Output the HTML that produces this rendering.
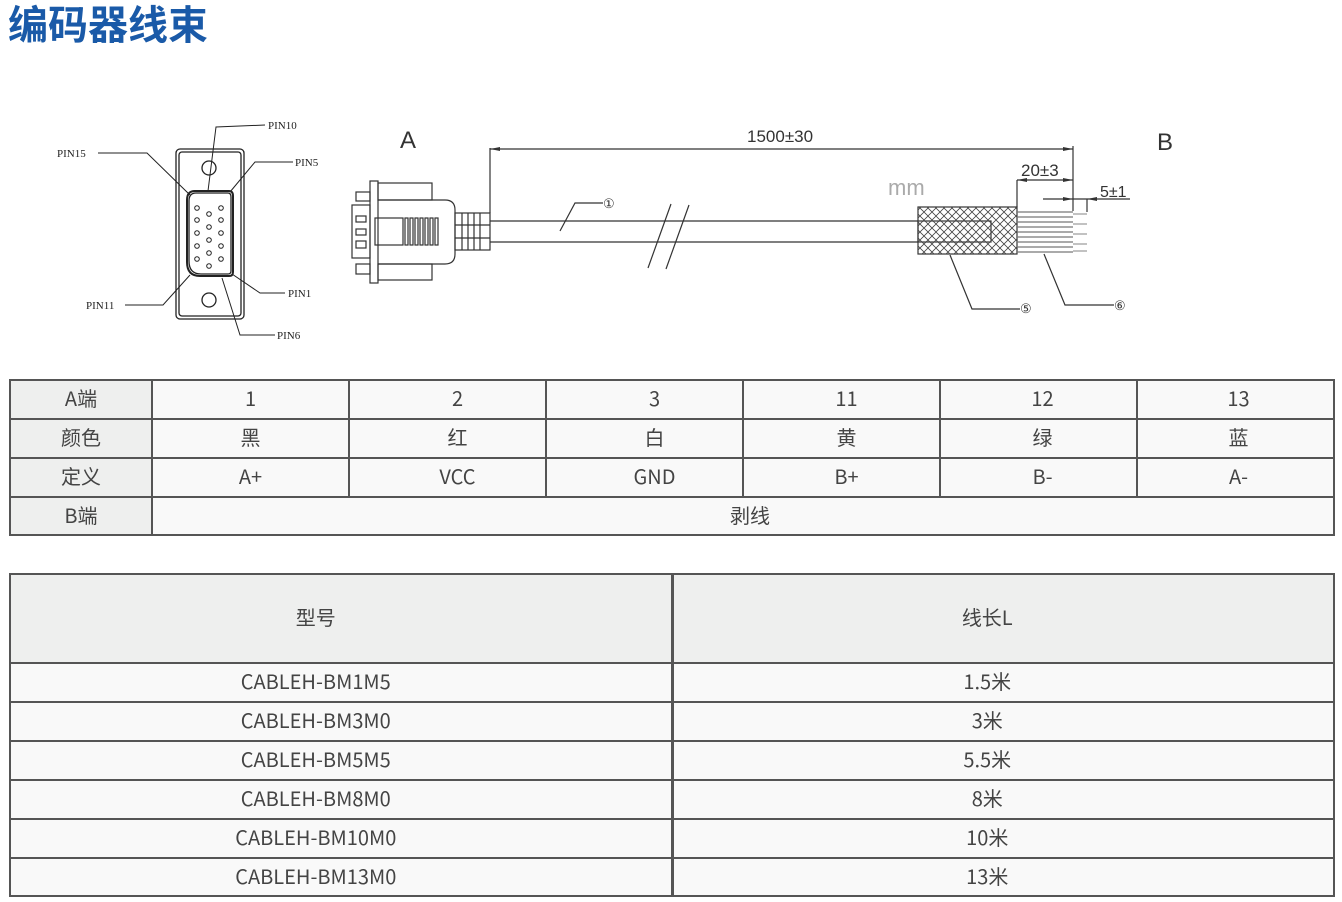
<!DOCTYPE html>
<html><head><meta charset="utf-8">
<style>
html,body{margin:0;padding:0;background:#fff;}
body{width:1342px;height:902px;position:relative;overflow:hidden;font-family:"Liberation Sans","Noto Sans CJK SC",sans-serif;}
.title{position:absolute;left:8px;top:-7px;font-size:40px;font-weight:bold;color:#1a5aa8;font-family:"Noto Sans CJK SC",sans-serif;letter-spacing:0px;}
table{position:absolute;border-collapse:collapse;font-family:"Noto Sans CJK SC","Liberation Sans",sans-serif;color:#444;font-size:20px;}
td{border:2px solid #555;text-align:center;padding:0;background:#f9f9f9;line-height:1;}
td.h{background:#eeefee;}
.t2 td.a{padding-right:50px;padding-bottom:3px;}
.t2 td.b{padding-right:32px;padding-bottom:3px;}
.t1 td{padding-bottom:3px;}
</style></head><body>
<div class="title">编码器线束</div>

<svg width="1342" height="370" style="position:absolute;left:0;top:0" xmlns="http://www.w3.org/2000/svg">
<g fill="none" stroke="#222" stroke-width="1.3">
 <rect x="176" y="149" width="68" height="170" rx="4"/>
 <rect x="179" y="152" width="62" height="164" rx="3"/>
 <circle cx="209" cy="168" r="7"/>
 <circle cx="209" cy="300" r="7"/>
 <path d="M195 191 L229 191 Q233 191 233 196 L233 272 Q233 276 229 276 L200 276 Q187 276 187 262 L187 200 Q187 191 195 191 Z" stroke-width="2"/>
 <path d="M196 193 L228 193 Q231 193 231 197 L231 271 Q231 274 228 274 L201 274 Q189 274 189 261 L189 201 Q189 193 196 193 Z"/>
</g>
<g fill="none" stroke="#222" stroke-width="1">
 <circle cx="197" cy="208" r="2.3"/><circle cx="221" cy="208" r="2.3"/><circle cx="209" cy="214" r="2.3"/>
 <circle cx="197" cy="220" r="2.3"/><circle cx="221" cy="220" r="2.3"/><circle cx="209" cy="227" r="2.3"/>
 <circle cx="197" cy="233" r="2.3"/><circle cx="221" cy="233" r="2.3"/><circle cx="209" cy="240" r="2.3"/>
 <circle cx="197" cy="246" r="2.3"/><circle cx="221" cy="246" r="2.3"/><circle cx="209" cy="253" r="2.3"/>
 <circle cx="197" cy="259" r="2.3"/><circle cx="221" cy="259" r="2.3"/><circle cx="209" cy="266" r="2.3"/>
 <polyline points="98,153 147,153 190,195"/>
 <polyline points="265,125 216,127 208,191"/>
 <polyline points="293,162 255,162 230,192"/>
 <polyline points="285,293 260,293 232,274"/>
 <polyline points="275,335 240,335 222,278"/>
 <polyline points="125,305 163,305 190,275"/>
</g>
<g font-family="Liberation Serif,serif" font-size="11" fill="#222">
 <text x="57" y="157">PIN15</text>
 <text x="268" y="129">PIN10</text>
 <text x="295" y="166">PIN5</text>
 <text x="288" y="297">PIN1</text>
 <text x="277" y="339">PIN6</text>
 <text x="86" y="309">PIN11</text>
</g>

<g fill="none" stroke="#333" stroke-width="1.2">
 <rect x="370" y="181" width="8" height="102"/>
 <rect x="378" y="183" width="54" height="17"/>
 <rect x="378" y="264" width="54" height="16"/>
 <path d="M378 200 L445 200 Q455 200 455 210 L455 254 Q455 264 445 264 L378 264"/>
 <rect x="352" y="205" width="18" height="53"/>
 <rect x="356" y="192" width="14" height="9"/>
 <rect x="356" y="264" width="14" height="10"/>
 <rect x="356" y="216" width="10" height="6"/>
 <rect x="356" y="229" width="10" height="6"/>
 <rect x="356" y="241" width="10" height="7"/>
 <rect x="375" y="218" width="28" height="27"/>
 <rect x="405" y="218" width="3" height="27"/><rect x="410" y="218" width="3" height="27"/>
 <rect x="415" y="218" width="3" height="27"/><rect x="420" y="218" width="3" height="27"/>
 <rect x="425" y="218" width="3" height="27"/><rect x="430" y="218" width="3" height="27"/>
 <rect x="435" y="218" width="3" height="27"/>
 <rect x="455" y="213" width="35" height="37"/>
 <line x1="462" y1="213" x2="462" y2="250"/><line x1="468" y1="213" x2="468" y2="250"/>
 <line x1="474" y1="213" x2="474" y2="250"/><line x1="480" y1="213" x2="480" y2="250"/>
 <line x1="455" y1="225" x2="490" y2="225"/><line x1="455" y1="238" x2="490" y2="238"/>
 <line x1="490" y1="221" x2="918" y2="221"/>
 <line x1="490" y1="242" x2="918" y2="242"/>
 <line x1="671" y1="204" x2="648" y2="268"/>
 <line x1="689" y1="205" x2="666" y2="269"/>
 <polyline points="560,231 575,203 603,203"/>
 <line x1="490" y1="148" x2="490" y2="213"/>
 <line x1="490" y1="149" x2="1073" y2="149"/>
 <line x1="1073" y1="146" x2="1073" y2="211"/>
 <line x1="1017" y1="180" x2="1073" y2="180"/>
 <line x1="1017" y1="180" x2="1017" y2="207"/>
 <line x1="1043" y1="199" x2="1130" y2="199"/>
 <line x1="1087" y1="199" x2="1087" y2="212"/>
 <rect x="918" y="207" width="99" height="47"/>
 <rect x="918" y="221" width="73" height="21"/>
 <polyline points="950,255 972,309 1020,309"/>
 <polyline points="1044,254 1065,305 1114,305"/>
</g>
<defs>
 <pattern id="hatch" width="8" height="8" patternUnits="userSpaceOnUse">
  <path d="M0 0 L8 8 M8 0 L0 8" stroke="#444" stroke-width="0.8"/>
 </pattern>
</defs>
<rect x="918" y="207" width="99" height="47" fill="url(#hatch)"/>
<g stroke="#777" stroke-width="1.2">
 <line x1="1017" y1="212" x2="1073" y2="212"/><line x1="1017" y1="217" x2="1073" y2="217"/>
 <line x1="1017" y1="222" x2="1073" y2="222"/><line x1="1017" y1="227" x2="1073" y2="227"/>
 <line x1="1017" y1="232" x2="1073" y2="232"/><line x1="1017" y1="237" x2="1073" y2="237"/>
 <line x1="1017" y1="242" x2="1073" y2="242"/><line x1="1017" y1="247" x2="1073" y2="247"/>
 <line x1="1017" y1="252" x2="1073" y2="252"/>
 <line x1="1073" y1="214" x2="1087" y2="214" stroke="#999"/><line x1="1073" y1="224" x2="1087" y2="224" stroke="#999"/>
 <line x1="1073" y1="234" x2="1087" y2="234" stroke="#999"/><line x1="1073" y1="244" x2="1087" y2="244" stroke="#999"/>
 <line x1="1073" y1="251" x2="1087" y2="251" stroke="#999"/>
</g>
<g fill="#333">
 <polygon points="490,149 500,147 500,151"/>
 <polygon points="1073,149 1063,147 1063,151"/>
 <polygon points="1017,180 1027,178 1027,182"/>
 <polygon points="1073,180 1063,178 1063,182"/>
 <polygon points="1073,199 1063,197 1063,201"/>
 <polygon points="1087,199 1097,197 1097,201"/>
</g>
<g font-family="Liberation Sans,sans-serif" fill="#333">
 <text x="400" y="148" font-size="24">A</text>
 <text x="1157" y="150" font-size="24">B</text>
 <text x="747" y="142" font-size="17">1500±30</text>
 <text x="1021" y="176" font-size="17">20±3</text>
 <text x="1100" y="197" font-size="16">5±1</text>
 <text x="888" y="195" font-size="22" fill="#aaa">mm</text>
 <text x="603" y="208" font-size="13">①</text>
 <text x="1020" y="313" font-size="13">⑤</text>
 <text x="1114" y="310" font-size="13">⑥</text>
</g>
</svg>

<table class="t1" style="left:9px;top:379px;width:1326px;">
<colgroup><col style="width:142px"><col style="width:197px"><col style="width:197px"><col style="width:197px"><col style="width:197px"><col style="width:197px"><col></colgroup>
<tr style="height:39px"><td class="h">A端</td><td>1</td><td style="padding-left:20px">2</td><td style="padding-left:20px">3</td><td style="padding-left:10px">11</td><td style="padding-left:8px">12</td><td style="padding-left:6px">13</td></tr>
<tr style="height:39px"><td class="h">颜色</td><td>黑</td><td style="padding-left:20px">红</td><td style="padding-left:20px">白</td><td style="padding-left:10px">黄</td><td style="padding-left:8px">绿</td><td style="padding-left:6px">蓝</td></tr>
<tr style="height:39px"><td class="h">定义</td><td>A+</td><td style="padding-left:20px">VCC</td><td style="padding-left:20px">GND</td><td style="padding-left:10px">B+</td><td style="padding-left:8px">B-</td><td style="padding-left:6px">A-</td></tr>
<tr style="height:38px"><td class="h">B端</td><td colspan="6" style="padding-left:14px">剥线</td></tr>
</table>

<table class="t2" style="left:9px;top:573px;width:1326px;">
<colgroup><col style="width:662px"><col></colgroup>
<tr style="height:89px"><td class="h a" style="border-right:3px solid #555">型号</td><td class="h b">线长L</td></tr>
<tr style="height:39px"><td class="a" style="border-right:3px solid #555">CABLEH-BM1M5</td><td class="b">1.5米</td></tr>
<tr style="height:39px"><td class="a" style="border-right:3px solid #555">CABLEH-BM3M0</td><td class="b">3米</td></tr>
<tr style="height:39px"><td class="a" style="border-right:3px solid #555">CABLEH-BM5M5</td><td class="b">5.5米</td></tr>
<tr style="height:39px"><td class="a" style="border-right:3px solid #555">CABLEH-BM8M0</td><td class="b">8米</td></tr>
<tr style="height:39px"><td class="a" style="border-right:3px solid #555">CABLEH-BM10M0</td><td class="b">10米</td></tr>
<tr style="height:38px"><td class="a" style="border-right:3px solid #555">CABLEH-BM13M0</td><td class="b">13米</td></tr>
</table>
</body></html>
